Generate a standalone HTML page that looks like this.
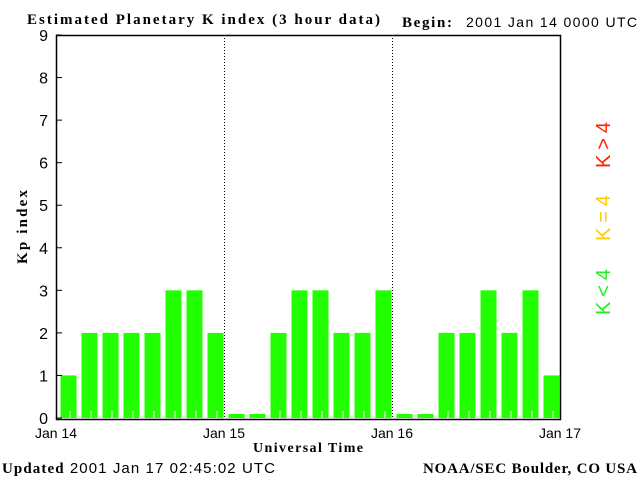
<!DOCTYPE html>
<html><head><style>
body{margin:0;background:#fff;}
svg text{font-family:"Liberation Sans",sans-serif;}
.s{font-family:"Liberation Serif",serif;font-weight:bold;}
</style></head><body>
<svg width="640" height="480" xmlns="http://www.w3.org/2000/svg">
<text class="s" x="27" y="24" font-size="15" textLength="353" lengthAdjust="spacing">Estimated Planetary K index (3 hour data)</text>
<text class="s" x="402" y="27" font-size="15" textLength="50">Begin:</text>
<text x="466" y="27" font-size="14" textLength="171">2001 Jan 14 0000 UTC</text>
<g id="plot"></g>
<text class="s" transform="translate(27,227) rotate(-90)" font-size="15" text-anchor="middle" textLength="74">Kp index</text>
<text class="s" x="253" y="452" font-size="14" textLength="110">Universal Time</text>
<text transform="translate(610,292) rotate(-90)" font-size="20" fill="#22ee22" text-anchor="middle" textLength="46">K&lt;4</text>
<text transform="translate(610,218) rotate(-90)" font-size="20" fill="#ffcc00" text-anchor="middle" textLength="46">K=4</text>
<text transform="translate(610,145) rotate(-90)" font-size="20" fill="#ff2200" text-anchor="middle" textLength="46">K&gt;4</text>
<text x="2" y="473" font-size="15" textLength="273"><tspan class="s">Updated</tspan> 2001 Jan 17 02:45:02 UTC</text>
<text class="s" x="423" y="473" font-size="15" textLength="214">NOAA/SEC Boulder, CO USA</text>
</svg>
<script>
const kpValues=[1,2,2,2,2,3,3,2, 0,0,2,3,3,2,2,3, 0,0,2,2,3,2,3,1];
const dayLabels=["Jan 14","Jan 15","Jan 16","Jan 17"];
const yTicks=[0,1,2,3,4,5,6,7,8,9];
const NS="http://www.w3.org/2000/svg";
const g=document.getElementById('plot');
const X0=56,X1=560,Y0=418,Y9=35;
const xs=i=>X0+(X1-X0)*i/kpValues.length;
const ys=v=>Y0-(Y0-Y9)*v/9;
function mk(t,a){const e=document.createElementNS(NS,t);for(const k in a)e.setAttribute(k,a[k]);g.appendChild(e);return e;}
const slot=(X1-X0)/kpValues.length;
kpValues.forEach((v,i)=>{
 const h=Math.max(Y0-ys(v),4);
 const r=mk('rect',{x:xs(i)+4.5,y:Y0-h,width:slot-5,height:h,fill:'#22ff00'});
 
 
 if(v>0){const t=mk('line',{x1:xs(i)+14,x2:xs(i)+14,y1:Y0-7,y2:Y0,stroke:'#fff','stroke-width':1});
 
 }
});
for(let d=1;d<dayLabels.length-1;d++){
 const x=X0+(X1-X0)*d/(dayLabels.length-1)+0.5;
 const l=mk('line',{x1:x,x2:x,y1:Y9,y2:Y0,stroke:'#000','stroke-dasharray':'1,2'});
 
 
}
const box=mk('rect',{x:X0+0.5,y:Y9+0.5,width:X1-X0,height:Y0-Y9+1,fill:'none',stroke:'#000','stroke-width':1.5});


yTicks.forEach(v=>{
 const y=ys(v);
 const t=mk('line',{x1:X0,x2:X0+6,y1:y,y2:y,stroke:'#000'});
 
 
 const tx=mk('text',{x:48,y:y+6,'font-size':16,'text-anchor':'end'});tx.textContent=v;
 
 
});
dayLabels.forEach((s,d)=>{
 const x=X0+(X1-X0)*d/(dayLabels.length-1);
 const tx=mk('text',{x:x,y:438,'font-size':14,'text-anchor':'middle'});tx.textContent=s;
 
 
});
</script>
</body></html>
